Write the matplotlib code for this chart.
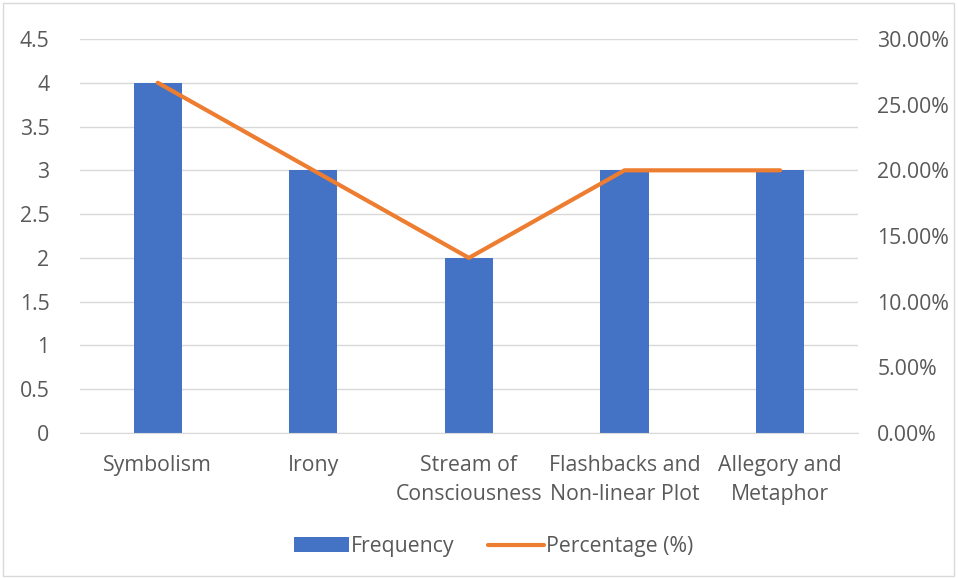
import matplotlib.pyplot as plt
import numpy as np
from matplotlib.patches import Rectangle

# Daten
kategorien = ['Symbolism', 'Irony', 'Stream of\nConsciousness',
              'Flashbacks and\nNon-linear Plot', 'Allegory and\nMetaphor']
frequenz = [4, 3, 2, 3, 3]
prozent = [26.67, 20.0, 13.33, 20.0, 20.0]

plt.rcParams['font.family'] = ['Open Sans', 'DejaVu Sans']
fs = 15.3

fig = plt.figure(figsize=(9.58, 5.78), dpi=100)
ax = fig.add_axes([0.0835, 0.251, 0.812, 0.6815])
ax2 = ax.twinx()

x = np.arange(len(kategorien))
ax.bar(x, frequenz, width=0.31, color='#4472C4', label='Frequency', zorder=2)
ax2.plot(x, prozent, color='#ED7D31', linewidth=3, label='Percentage (%)',
         solid_capstyle='round', zorder=3)

ax.set_xlim(-0.5, len(kategorien) - 0.5)
ax.set_ylim(0, 4.5)
ax.set_yticks(np.arange(0, 4.51, 0.5))
ax.set_yticklabels(['0', '0.5', '1', '1.5', '2', '2.5', '3', '3.5', '4', '4.5'])
ax2.set_ylim(0, 30)
ax2.set_yticks(np.arange(0, 30.1, 5))
ax2.set_yticklabels(['%.2f%%' % v for v in np.arange(0, 30.1, 5)])
ax.set_xticks(x)
ax.set_xticklabels(kategorien, linespacing=1.5)

ax.grid(axis='y', color='#D9D9D9', linewidth=1, zorder=0)
ax.set_axisbelow(True)
for a in (ax, ax2):
    for s in a.spines.values():
        s.set_visible(False)
    a.tick_params(length=0, colors='#595959', labelsize=fs)
ax.tick_params(axis='y', pad=22)
ax2.tick_params(axis='y', pad=14)
ax.tick_params(axis='x', pad=16)
ax.spines['bottom'].set_visible(True)
ax.spines['bottom'].set_color('#D9D9D9')

# Legende
h1, l1 = ax.get_legend_handles_labels()
h2, l2 = ax2.get_legend_handles_labels()
fig.legend(h1 + h2, l1 + l2, loc='center', bbox_to_anchor=(0.515, 0.054), ncol=2,
           frameon=False, handlelength=2.6, handletextpad=0.1, columnspacing=1.6,
           labelcolor='#595959', fontsize=fs)

# Rahmen
fig.patches.append(Rectangle((0.003, 0.004), 0.993, 0.99, transform=fig.transFigure,
                             fill=False, edgecolor='#D9D9D9', linewidth=1))

fig.savefig('out.png', dpi=100)
